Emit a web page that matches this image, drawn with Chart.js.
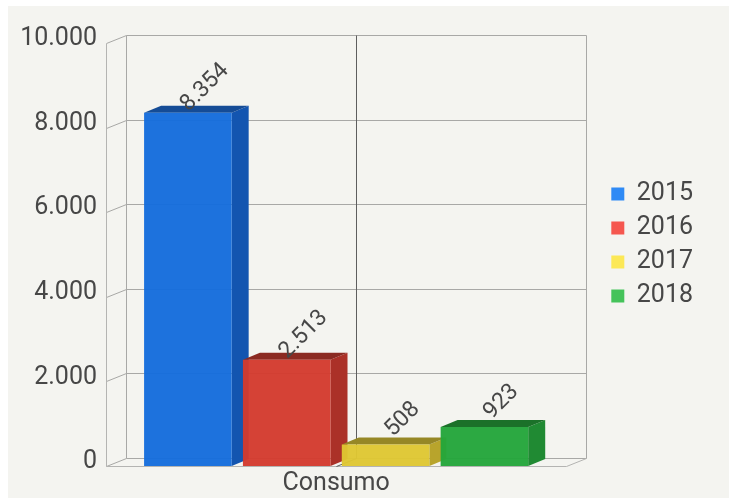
<!DOCTYPE html>
<html>
<head>
<meta charset="utf-8">
<script src="https://cdn.jsdelivr.net/npm/chart.js@4.4.1/dist/chart.umd.min.js"></script>
<style>
  html, body { margin: 0; padding: 0; background: #fff; }
</style>
</head>
<body>
<canvas id="chart" width="729" height="498"></canvas>
<script>
const categories = ['Consumo'];
const years = ['2015', '2016', '2017', '2018'];
const consumo2015 = [8354];
const consumo2016 = [2513];
const consumo2017 = [508];
const consumo2018 = [923];
const yMax = 10000;
const yStep = 2000;

const frontColors = ['rgba(20,108,220,0.96)', 'rgba(211,58,46,0.96)', 'rgba(223,199,50,0.96)', 'rgba(35,165,58,0.96)'];
const sideColors = ['#1355b0', '#ab3128', '#b8a42c', '#208a33'];
const topColors = ['#154c96', '#8b2a22', '#968726', '#1b7129'];
const legendColors = ['#2f8af5', '#f5574f', '#fce856', '#45c35a'];

const wallDepth = { x: 20, y: -8 };
const barDepth = { x: 17, y: -7 };

// 8354 -> "8.354"
function fmt(v) {
  return String(v).replace(/\B(?=(\d{3})+(?!\d))/g, '.');
}

const frame3d = {
  id: 'frame3d',
  beforeDraw(chart) {
    const ctx = chart.ctx;
    ctx.save();
    ctx.fillStyle = '#ffffff';
    ctx.fillRect(0, 0, chart.width, chart.height);
    ctx.fillStyle = '#f4f4f0';
    ctx.fillRect(8, 6, chart.width - 8, chart.height - 6);
    ctx.restore();
  },
  beforeDatasetsDraw(chart) {
    const { ctx, chartArea: a, scales: { x, y } } = chart;
    const line = (x1, y1, x2, y2) => {
      ctx.beginPath();
      ctx.moveTo(x1, y1);
      ctx.lineTo(x2, y2);
      ctx.stroke();
    };
    const L = Math.round(a.left) + 0.5;
    const R = Math.round(a.right) + 0.5;
    const B = Math.round(a.bottom) + 0.5;
    const backTop = Math.round(y.getPixelForValue(yMax) + wallDepth.y) + 0.5;
    const backBottom = Math.round(y.getPixelForValue(0) + wallDepth.y) + 0.5;

    ctx.save();
    ctx.lineWidth = 1;
    ctx.strokeStyle = '#a8a8a6';
    // back wall gridlines + diagonals to the front axis
    y.ticks.forEach(t => {
      const fy = Math.round(y.getPixelForValue(t.value)) + 0.5;
      const by = Math.round(y.getPixelForValue(t.value) + wallDepth.y) + 0.5;
      line(L + wallDepth.x, by, R + wallDepth.x, by);
      line(L, fy, L + wallDepth.x, by);
    });
    line(L + wallDepth.x, backTop, L + wallDepth.x, backBottom);
    line(R + wallDepth.x, backTop, R + wallDepth.x, backBottom);
    // front left axis and floor
    ctx.strokeStyle = '#b4b4b2';
    line(L, Math.round(a.top) + 0.5, L, B);
    line(L, B, R, B);
    line(R, B, R + wallDepth.x, backBottom);

    // category line on the back wall
    const cx = Math.round(x.getPixelForValue(0)) + 0.5;
    ctx.strokeStyle = '#5e5e5e';
    line(cx + wallDepth.x, backTop, cx + wallDepth.x, backBottom);
    line(cx + wallDepth.x, backBottom, cx, B);

    // side and top faces of the bars
    chart.data.datasets.forEach((ds, i) => {
      chart.getDatasetMeta(i).data.forEach(bar => {
        const { x: bx, y: by, base, width } = bar.getProps(['x', 'y', 'base', 'width'], true);
        const l = bx - width / 2, r = bx + width / 2;
        ctx.fillStyle = sideColors[i];
        ctx.beginPath();
        ctx.moveTo(r, by);
        ctx.lineTo(r + barDepth.x, by + barDepth.y);
        ctx.lineTo(r + barDepth.x, base + barDepth.y);
        ctx.lineTo(r, base);
        ctx.closePath();
        ctx.fill();
        ctx.fillStyle = topColors[i];
        ctx.beginPath();
        ctx.moveTo(l, by);
        ctx.lineTo(l + barDepth.x, by + barDepth.y);
        ctx.lineTo(r + barDepth.x, by + barDepth.y);
        ctx.lineTo(r, by);
        ctx.closePath();
        ctx.fill();
      });
    });
    ctx.restore();
  },
  afterDatasetsDraw(chart) {
    const ctx = chart.ctx;
    ctx.save();
    ctx.font = '23px Roboto';
    ctx.fillStyle = '#474747';
    ctx.textAlign = 'center';
    ctx.textBaseline = 'middle';
    chart.data.datasets.forEach((ds, i) => {
      chart.getDatasetMeta(i).data.forEach((bar, j) => {
        const { x: bx, y: by } = bar.getProps(['x', 'y'], true);
        ctx.save();
        ctx.translate(bx + 17, by - 25);
        ctx.rotate(-Math.PI / 4);
        ctx.fillText(fmt(ds.data[j]), 0, 0);
        ctx.restore();
      });
    });
    ctx.restore();
  }
};

Chart.defaults.font.family = 'Roboto';
Chart.defaults.color = '#474747';

const seriesValues = [consumo2015, consumo2016, consumo2017, consumo2018];

new Chart(document.getElementById('chart').getContext('2d'), {
  type: 'bar',
  data: {
    labels: categories,
    datasets: years.map((yr, i) => ({
      label: yr,
      data: seriesValues[i],
      backgroundColor: frontColors[i],
      borderWidth: 0,
      barPercentage: 0.886,
      categoryPercentage: 0.859
    }))
  },
  options: {
    responsive: false,
    animation: false,
    // negative top padding only lifts the legend column a little
    layout: { padding: { top: -8, left: 0, right: 26, bottom: 0 } },
    scales: {
      x: {
        grid: { display: false, drawTicks: false },
        border: { display: false },
        ticks: { font: { size: 25 }, padding: 3 },
        afterFit(s) { s.height = 32; }
      },
      y: {
        min: 0,
        max: yMax,
        grid: { display: false, drawTicks: false },
        border: { display: false },
        ticks: { stepSize: yStep, font: { size: 25 }, padding: 9, labelOffset: -4, callback: v => fmt(v) },
        afterFit(s) { s.width = 106; }
      },
      padTop: {
        type: 'linear',
        position: 'top',
        grid: { display: false, drawTicks: false },
        border: { display: false },
        ticks: { display: false },
        afterFit(s) { s.height = 51; }
      },
      padRight: {
        type: 'linear',
        position: 'right',
        grid: { display: false, drawTicks: false },
        border: { display: false },
        ticks: { display: false },
        afterFit(s) { s.width = 36; }
      }
    },
    plugins: {
      tooltip: { enabled: false },
      legend: {
        position: 'right',
        labels: {
          font: { size: 25 },
          color: '#474747',
          boxWidth: 13,
          boxHeight: 13,
          padding: 9,
          generateLabels(chart) {
            const items = Chart.defaults.plugins.legend.labels.generateLabels(chart);
            items.forEach((it, i) => {
              it.fillStyle = legendColors[i];
              it.strokeStyle = legendColors[i];
              it.lineWidth = 0;
            });
            return items;
          }
        }
      }
    }
  },
  plugins: [frame3d]
});
</script>
</body>
</html>
